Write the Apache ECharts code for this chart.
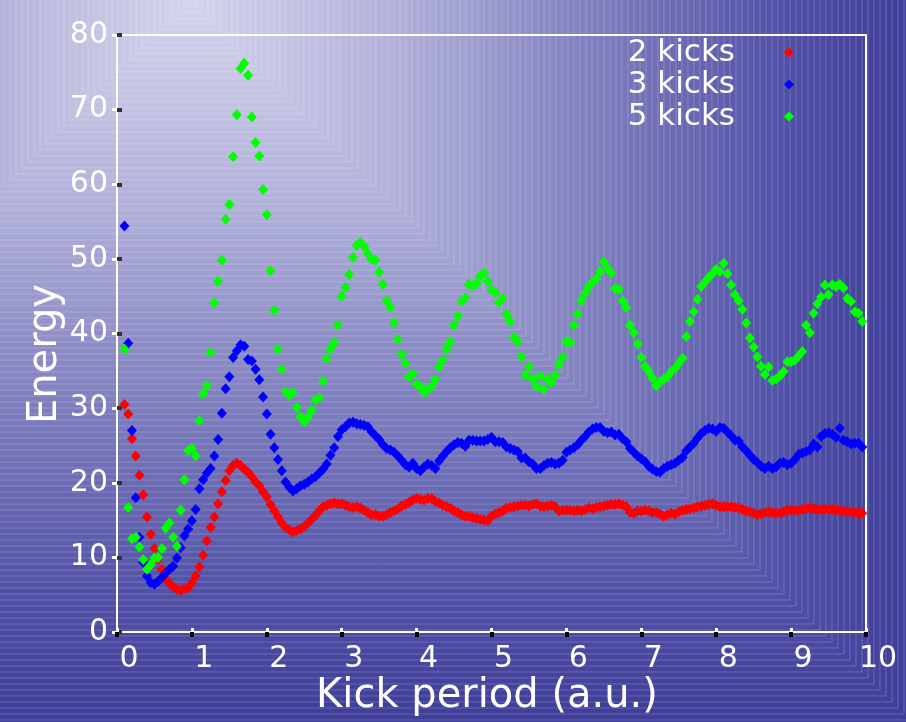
<!DOCTYPE html>
<html>
<head>
<meta charset="utf-8">
<script src="https://cdn.jsdelivr.net/npm/echarts@6/dist/echarts.min.js"></script>
<style>
  html, body { margin: 0; padding: 0; background: #3a3a96; }
  #chart { width: 906px; height: 722px; }
</style>
</head>
<body>
<div id="chart"></div>
<script>
// Kick periods are sampled on a uniform grid starting at 0.1 a.u. with a 0.05 a.u. step.
const periodStart = 0.1;
const periodStep = 0.05;

const seriesNames = ['2 kicks', '3 kicks', '5 kicks'];
const xTickLabels = ['0', '1', '2', '3', '4', '5', '6', '7', '8', '9', '10'];
const yTickLabels = ['0', '10', '20', '30', '40', '50', '60', '70', '80'];

// Energy after 2 kicks (one row = 0.5 a.u. of kick period)
const energy2 = [
  30.5, 29.2, 25.9, 23.6, 21.0, 18.4, 15.4, 13.1, 11.2, 9.7,
  8.4, 7.1, 6.5, 6.1, 5.7, 5.6, 5.8, 5.9, 6.6, 7.5,
  8.7, 10.3, 12.2, 14.0, 15.4, 17.2, 18.8, 20.3, 21.6, 22.3,
  22.6, 22.3, 21.8, 21.4, 20.8, 20.1, 19.6, 18.8, 18.1, 17.1,
  16.2, 15.4, 14.6, 14.0, 13.7, 13.4, 13.6, 13.8, 14.1, 14.6,
  15.1, 15.6, 16.2, 16.8, 17.0, 17.2, 17.3, 17.2, 17.2, 17.0,
  16.8, 16.7, 16.8, 16.6, 16.3, 16.0, 15.7, 15.7, 15.5, 15.5,
  15.7, 16.0, 16.2, 16.5, 16.9, 17.1, 17.4, 17.7, 17.9, 17.8,
  17.7, 17.9, 17.9, 17.5, 17.3, 17.0, 16.8, 16.6, 16.2, 16.0,
  15.7, 15.5, 15.5, 15.3, 15.2, 15.1, 15.0, 14.9, 15.5, 15.8,
  16.0, 16.2, 16.6, 16.7, 16.8, 16.9, 17.0, 17.0, 16.9, 17.1,
  17.2, 16.9, 16.8, 16.9, 17.0, 16.8, 16.2, 16.3, 16.3, 16.3,
  16.2, 16.3, 16.2, 16.4, 16.6, 16.5, 16.7, 16.8, 16.9, 17.0,
  17.1, 17.1, 17.2, 17.0, 16.8, 16.0, 15.9, 16.2, 16.2, 16.3,
  16.2, 16.0, 16.0, 15.8, 15.5, 15.7, 15.9, 15.8, 16.1, 16.3,
  16.4, 16.5, 16.6, 16.8, 16.9, 17.0, 17.1, 17.2, 17.0, 16.8,
  16.8, 16.8, 16.8, 16.7, 16.6, 16.4, 16.2, 16.1, 15.9, 15.7,
  15.8, 16.0, 16.1, 16.0, 15.9, 15.9, 16.1, 16.3, 16.3, 16.3,
  16.3, 16.4, 16.5, 16.6, 16.5, 16.4, 16.4, 16.4, 16.4, 16.4,
  16.3, 16.3, 16.2, 16.1, 16.1, 16.0, 15.9, 15.9
];

// Energy after 3 kicks
const energy3 = [
  54.4, 38.7, 27.0, 18.0, 12.7, 9.3, 7.5, 6.6, 6.4, 6.8,
  7.3, 7.9, 8.4, 8.8, 9.9, 11.3, 12.9, 13.8, 14.9, 16.4,
  19.2, 20.4, 21.3, 21.9, 23.6, 25.8, 29.3, 32.6, 34.2, 36.8,
  37.7, 38.5, 38.3, 36.5, 36.3, 35.2, 33.8, 31.5, 29.2, 26.5,
  24.7, 23.1, 21.6, 20.1, 19.4, 18.9, 19.2, 19.6, 19.8, 20.1,
  20.5, 20.8, 21.3, 21.8, 22.5, 23.7, 24.7, 26.2, 27.1, 27.5,
  28.0, 28.1, 27.9, 27.8, 27.7, 27.5, 26.8, 26.3, 25.8, 25.1,
  24.6, 24.4, 24.1, 23.6, 23.0, 22.4, 22.1, 22.6, 21.9, 21.6,
  22.1, 22.5, 22.3, 21.9, 22.9, 23.6, 24.2, 24.7, 25.1, 25.4,
  25.3, 24.9, 25.7, 25.7, 25.6, 25.6, 25.6, 25.8, 26.1, 25.5,
  25.5, 25.4, 24.8, 24.6, 24.4, 24.2, 23.3, 23.3, 22.8, 22.5,
  21.9, 21.9, 22.3, 22.6, 22.7, 22.5, 22.6, 23.0, 24.1, 24.4,
  24.7, 25.1, 25.7, 26.2, 26.8, 27.2, 27.4, 27.4, 26.9, 26.7,
  26.8, 26.4, 26.5, 25.9, 25.5, 24.6, 24.1, 23.6, 23.2, 22.8,
  22.2, 21.8, 21.5, 21.4, 21.9, 22.2, 22.4, 22.6, 23.0, 23.4,
  24.3, 24.8, 25.3, 26.0, 26.6, 27.0, 27.3, 27.2, 26.9, 27.4,
  27.3, 26.8, 26.3, 25.7, 25.6, 24.8, 24.3, 23.7, 23.1, 22.7,
  22.2, 21.9, 22.2, 21.9, 22.1, 22.6, 22.7, 22.4, 22.6, 23.1,
  23.8, 24.0, 24.2, 24.4, 25.2, 24.8, 26.2, 26.6, 26.7, 26.5,
  26.1, 27.3, 25.7, 25.5, 25.2, 25.3, 25.3, 24.8
];

// Energy after 5 kicks
const energy5 = [
  37.9, 16.7, 12.5, 12.7, 11.4, 9.7, 8.4, 9.0, 9.9, 10.0,
  11.2, 13.9, 14.6, 12.7, 11.5, 16.3, 20.4, 24.3, 24.6, 23.6,
  28.3, 31.9, 33.0, 37.5, 44.1, 47.0, 49.8, 55.3, 57.3, 63.7,
  69.3, 75.5, 76.2, 74.6, 69.0, 65.6, 63.8, 59.3, 55.9, 48.4,
  43.1, 37.9, 35.2, 32.2, 31.7, 32.1, 30.1, 28.8, 28.2, 28.8,
  29.7, 31.1, 31.4, 33.6, 36.6, 37.9, 38.8, 41.1, 45.0, 46.2,
  47.9, 50.2, 51.8, 52.2, 51.7, 50.7, 49.9, 49.8, 48.2, 46.6,
  44.4, 43.5, 41.4, 39.2, 37.2, 36.0, 34.2, 34.6, 33.2, 32.9,
  32.1, 32.5, 32.9, 33.8, 35.5, 36.4, 37.9, 38.9, 41.1, 42.3,
  44.3, 44.8, 46.6, 46.4, 46.7, 47.7, 48.1, 47.0, 45.9, 45.5,
  44.2, 44.7, 42.6, 41.6, 39.5, 38.9, 36.9, 34.4, 35.5, 33.9,
  32.9, 34.3, 32.5, 33.9, 33.4, 34.4, 35.8, 36.8, 38.9, 38.8,
  41.1, 42.6, 44.4, 45.4, 46.3, 46.9, 47.3, 48.3, 49.6, 48.7,
  48.1, 46.0, 45.9, 44.4, 43.5, 41.1, 40.1, 38.6, 36.8, 35.6,
  34.9, 34.0, 33.0, 33.5, 33.9, 34.2, 34.9, 35.3, 36.0, 36.7,
  39.6, 41.6, 42.9, 44.6, 46.3, 46.9, 47.5, 48.0, 48.6, 48.3,
  49.4, 48.0, 46.5, 45.2, 44.4, 43.2, 41.4, 39.4, 38.2, 36.9,
  35.6, 34.5, 35.5, 33.7, 33.9, 34.3, 34.9, 36.2, 36.2, 36.4,
  37.0, 37.6, 41.1, 40.1, 42.7, 44.0, 44.9, 46.5, 45.2, 46.5,
  46.3, 46.6, 46.1, 44.7, 44.3, 42.9, 42.7, 41.6
];

const seriesColors = ['#ff0000', '#0000ff', '#00ff00'];
const FONT = '"DejaVu Sans", "Liberation Sans", sans-serif';

function toPoints(values) {
  return values.map((e, i) => [+(periodStart + i * periodStep).toFixed(2), e]);
}

// Box-shaped backdrop: nested squares that darken away from a point near the top-left.
const bgCenter = [190, 0];
const bgStops = [
  [0, [212, 212, 236]],
  [200, [178, 178, 219]],
  [400, [128, 128, 191]],
  [600, [80, 80, 166]],
  [780, [54, 54, 148]]
];
function bgColor(r) {
  for (let k = 1; k < bgStops.length; k++) {
    if (r <= bgStops[k][0]) {
      const [r0, c0] = bgStops[k - 1];
      const [r1, c1] = bgStops[k];
      const f = (r - r0) / (r1 - r0);
      const c = c0.map((v, j) => Math.round(v + (c1[j] - v) * f));
      return 'rgb(' + c.join(',') + ')';
    }
  }
  const c = bgStops[bgStops.length - 1][1];
  return 'rgb(' + c.join(',') + ')';
}
const backdrop = [];
for (let r = 780; r > 0; r -= 6) {
  backdrop.push({
    type: 'rect',
    z: -10,
    silent: true,
    shape: { x: bgCenter[0] - r, y: bgCenter[1] - r, width: 2 * r, height: 2 * r },
    style: { fill: bgColor(r), stroke: 'rgba(255,255,255,0.2)', lineWidth: 1 }
  });
}

const chart = echarts.init(document.getElementById('chart'), null, { renderer: 'canvas' });

chart.setOption({
  animation: false,
  backgroundColor: 'transparent',
  graphic: backdrop.concat([
    {
      type: 'text', z: 10, x: 487, y: 697,
      style: { text: 'Kick period (a.u.)', fill: '#ffffff', font: '40px ' + FONT, align: 'center', verticalAlign: 'middle' }
    },
    {
      type: 'text', z: 10, x: 46, y: 354, rotation: Math.PI / 2,
      style: { text: 'Energy', fill: '#ffffff', font: '40px ' + FONT, align: 'center', verticalAlign: 'middle' }
    }
  ]),
  grid: {
    left: 117, top: 35, width: 749, height: 597,
    show: true, borderColor: '#ffffff', borderWidth: 2, backgroundColor: 'transparent'
  },
  legend: {
    data: seriesNames,
    orient: 'vertical',
    right: 112,
    top: 37,
    padding: 0,
    align: 'right',
    icon: 'diamond',
    itemWidth: 10,
    itemHeight: 10,
    itemGap: 1,
    textStyle: { color: '#ffffff', fontSize: 31, fontFamily: FONT, lineHeight: 31, padding: [0, 44, 0, 0] }
  },
  xAxis: [
    {
      type: 'value', position: 'bottom', min: 0, max: 10, interval: 1,
      axisLine: { show: false },
      splitLine: { show: false },
      axisTick: { show: true, inside: true, length: 4, lineStyle: { color: '#ffffff', width: 3 } },
      axisLabel: {
        color: '#ffffff', fontSize: 30, fontFamily: FONT, margin: 12,
        padding: [0, 0, 0, 24], showMinLabel: true, showMaxLabel: true,
        formatter: v => xTickLabels[Math.round(v)]
      }
    },
    {
      type: 'value', position: 'top', min: 0, max: 10, interval: 1,
      axisLine: { show: false },
      splitLine: { show: false },
      axisLabel: { show: false },
      axisTick: { show: true, inside: true, length: 5, lineStyle: { color: '#000000', width: 4 } }
    }
  ],
  yAxis: [
    {
      type: 'value', position: 'left', min: 0, max: 80, interval: 10,
      axisLine: { show: false },
      splitLine: { show: false },
      axisTick: { show: true, inside: true, length: 5, lineStyle: { color: '#333333', width: 4 } },
      axisLabel: {
        color: '#ffffff', fontSize: 30, fontFamily: FONT, margin: 9,
        showMinLabel: true, showMaxLabel: true,
        formatter: v => yTickLabels[Math.round(v / 10)]
      }
    },
    {
      type: 'value', position: 'right', min: 0, max: 80, interval: 10,
      axisLine: { show: false },
      splitLine: { show: false },
      axisLabel: { show: false },
      axisTick: { show: true, inside: true, length: 5, lineStyle: { color: '#ffffff', width: 3 } }
    }
  ],
  series: [energy2, energy3, energy5].map((vals, k) => ({
    name: seriesNames[k],
    type: 'scatter',
    xAxisIndex: 0,
    yAxisIndex: 0,
    symbol: 'diamond',
    symbolSize: [10, 11],
    itemStyle: { color: seriesColors[k], opacity: 1 },
    emphasis: { disabled: true },
    data: toPoints(vals)
  }))
});
</script>
</body>
</html>
